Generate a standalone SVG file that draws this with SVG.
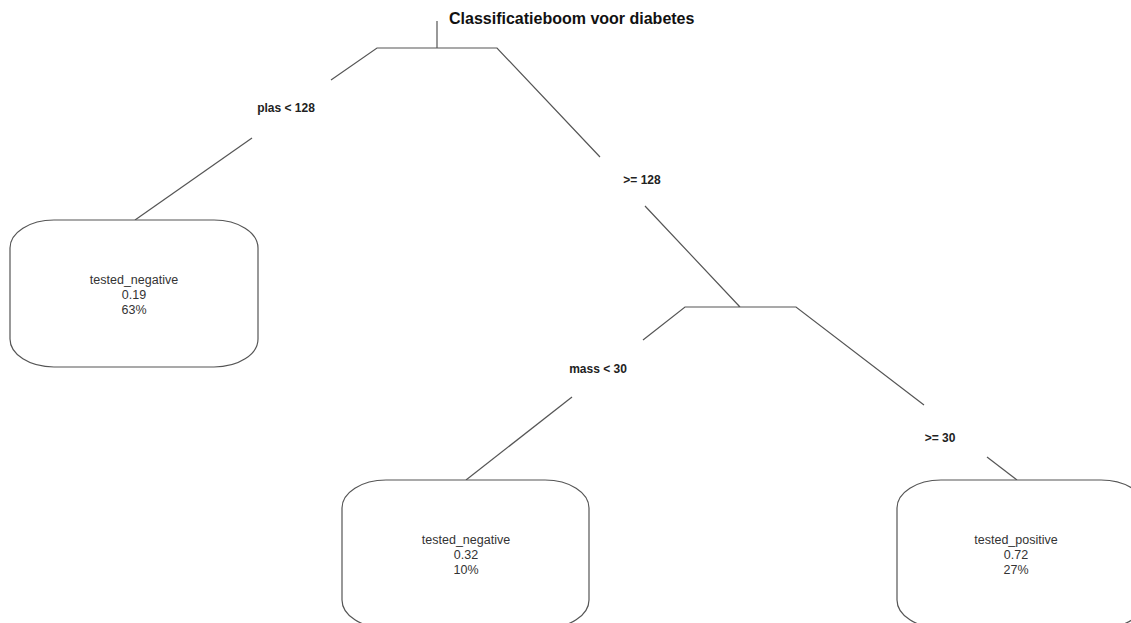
<svg xmlns="http://www.w3.org/2000/svg" width="1131" height="623" viewBox="0 0 1131 623">
<style>
.edge{fill:none;stroke:#555;stroke-width:1.2}
.box{fill:#fff;stroke:#555;stroke-width:1.2}
.lbl{font-family:"Liberation Sans",Arial,sans-serif;font-weight:bold;font-size:12px;fill:#222;text-anchor:middle}
.txt{font-family:"Liberation Sans",Arial,sans-serif;font-size:12.5px;fill:#333;text-anchor:middle}
.title{font-family:"Liberation Sans",Arial,sans-serif;font-weight:bold;font-size:16px;fill:#111}
</style>
<rect width="1131" height="623" fill="#fff"/>
<text class="title" x="449" y="24">Classificatieboom voor diabetes</text>
<g id="connectors">
<path class="edge" d="M437,21 V48 M331,80 L377,48 H497 L600,157"/>
<path class="edge" d="M252,138 L135,220"/>
<path class="edge" d="M645,206 L740,307 M643,340 L685,307 H796 L924,405"/>
<path class="edge" d="M572,397 L466,480"/>
<path class="edge" d="M987,457 L1017,480"/>
</g>
<g id="split1-labels">
<text class="lbl" x="286" y="112">plas &lt; 128</text>
<text class="lbl" x="642" y="184">&gt;= 128</text>
</g>
<g id="split2-labels">
<text class="lbl" x="598" y="373">mass &lt; 30</text>
<text class="lbl" x="940" y="442">&gt;= 30</text>
</g>
<g id="leaf1">
<rect class="box" x="10" y="220" width="248" height="147" rx="44" ry="28"/>
<text class="txt" x="134" y="284">tested_negative</text>
<text class="txt" x="134" y="299">0.19</text>
<text class="txt" x="134" y="314">63%</text>
</g>
<g id="leaf2">
<rect class="box" x="342" y="480" width="247" height="148" rx="44" ry="28"/>
<text class="txt" x="466" y="544">tested_negative</text>
<text class="txt" x="466" y="559">0.32</text>
<text class="txt" x="466" y="574">10%</text>
</g>
<g id="leaf3">
<rect class="box" x="897" y="480" width="248" height="148" rx="44" ry="28"/>
<text class="txt" x="1016" y="544">tested_positive</text>
<text class="txt" x="1016" y="559">0.72</text>
<text class="txt" x="1016" y="574">27%</text>
</g>
</svg>
